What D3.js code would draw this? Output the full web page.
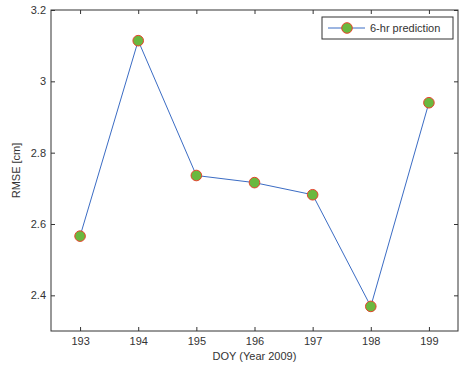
<!DOCTYPE html>
<html><head><meta charset="utf-8">
<script src="https://cdn.jsdelivr.net/npm/d3@7"></script>
<style>body{margin:0;background:#fff}svg{display:block}</style>
</head><body>
<script>
const days = [193,194,195,196,197,198,199];
const rmse = [2.566,3.114,2.736,2.716,2.682,2.369,2.940];
const yTicks = [2.4,2.6,2.8,3,3.2];
const seriesName = "6-hr prediction";

const W=459,H=367, L=51,T=10,R=458,B=331;
const svg=d3.select("body").append("svg").attr("width",W).attr("height",H);
const x=d3.scaleLinear().domain([192.5,199.5]).range([L,R]);
const y=d3.scaleLinear().domain([2.3,3.2]).range([B,T]);
const font="Liberation Sans, Arial, sans-serif";
const axCol="#333";

svg.append("rect").attr("x",L).attr("y",T).attr("width",R-L).attr("height",B-T)
  .attr("fill","none").attr("stroke",axCol).attr("stroke-width",1);

const gx=svg.append("g").attr("transform",`translate(0,${B})`)
  .call(d3.axisBottom(x).tickValues(days).tickFormat(d3.format("d")).tickSize(-4).tickPadding(6));
const gxt=svg.append("g").attr("transform",`translate(0,${T})`)
  .call(d3.axisTop(x).tickValues(days).tickFormat("").tickSize(-4));
const gy=svg.append("g").attr("transform",`translate(${L},0)`)
  .call(d3.axisLeft(y).tickValues(yTicks).tickFormat(d=>String(d)).tickSize(-4).tickPadding(5));
const gyr=svg.append("g").attr("transform",`translate(${R},0)`)
  .call(d3.axisRight(y).tickValues(yTicks).tickFormat("").tickSize(-4));
[gx,gxt,gy,gyr].forEach(g=>{
  g.select(".domain").remove();
  g.selectAll("line").attr("stroke",axCol);
  g.selectAll("text").attr("font-family",font).attr("font-size",11).attr("fill","#333");
});

const line=d3.line().x((d,i)=>x(days[i])).y(d=>y(d));
svg.append("path").datum(rmse).attr("d",line).attr("fill","none")
  .attr("stroke","#3b6cc4").attr("stroke-width",1);
svg.selectAll("circle.pt").data(rmse).enter().append("circle").attr("class","pt")
  .attr("cx",(d,i)=>x(days[i])).attr("cy",d=>y(d)).attr("r",5.3)
  .attr("fill","#6ab83f").attr("stroke","#e8412c").attr("stroke-width",1);

svg.append("text").attr("x",(L+R)/2).attr("y",360).attr("text-anchor","middle")
  .attr("font-family",font).attr("font-size",11).attr("fill","#333").text("DOY (Year 2009)");
svg.append("text").attr("transform",`translate(20,${(T+B)/2}) rotate(-90)`).attr("text-anchor","middle")
  .attr("font-family",font).attr("font-size",11).attr("fill","#333").text("RMSE [cm]");

const lg=svg.append("g");
lg.append("rect").attr("x",322).attr("y",17).attr("width",131).attr("height",22)
  .attr("fill","#fff").attr("stroke",axCol).attr("stroke-width",1);
lg.append("line").attr("x1",328).attr("x2",365).attr("y1",28).attr("y2",28).attr("stroke","#3b6cc4");
lg.append("circle").attr("cx",347).attr("cy",28).attr("r",5.3).attr("fill","#6ab83f").attr("stroke","#e8412c");
lg.append("text").attr("x",370).attr("y",32).attr("font-family",font).attr("font-size",11).attr("fill","#333").text(seriesName);
</script>
</body></html>
